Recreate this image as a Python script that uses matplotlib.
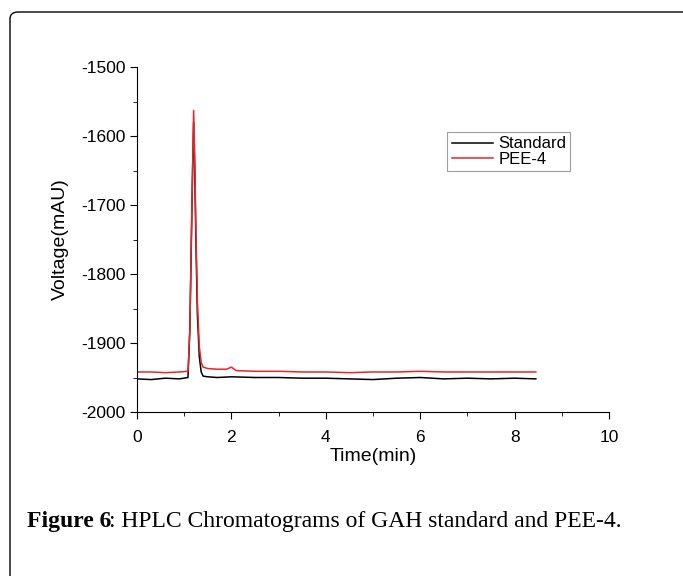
import matplotlib
matplotlib.use("Agg")
import matplotlib.pyplot as plt
from matplotlib.patches import FancyBboxPatch
from matplotlib.ticker import MultipleLocator

plt.rcParams["axes.unicode_minus"] = False

# retention time (min) and detector voltage (mAU)
time_std = [0.0, 0.3, 0.6, 0.9, 1.08, 1.12, 1.15, 1.18, 1.2, 1.22, 1.25, 1.28,
            1.32, 1.36, 1.4, 1.5, 1.7, 2.0, 2.5, 3.0, 3.5, 4.0, 4.5, 5.0,
            5.5, 6.0, 6.5, 7.0, 7.5, 8.0, 8.45]
volt_std = [-1952, -1953, -1951, -1952, -1950, -1880, -1760, -1640, -1580,
            -1640, -1760, -1860, -1920, -1942, -1948, -1949, -1950, -1949,
            -1950, -1950, -1951, -1951, -1952, -1953, -1951, -1950, -1952,
            -1951, -1952, -1951, -1952]

time_pee = [0.0, 0.3, 0.6, 0.9, 1.08, 1.12, 1.15, 1.18, 1.2, 1.22, 1.25, 1.28,
            1.32, 1.36, 1.4, 1.5, 1.7, 1.9, 2.0, 2.1, 2.5, 3.0, 3.5, 4.0,
            4.5, 5.0, 5.5, 6.0, 6.5, 7.0, 7.5, 8.0, 8.45]
volt_pee = [-1942, -1942, -1943, -1942, -1941, -1880, -1750, -1640, -1563,
            -1620, -1740, -1840, -1905, -1928, -1935, -1937, -1938, -1938,
            -1935, -1940, -1941, -1941, -1942, -1942, -1943, -1942, -1942,
            -1941, -1942, -1942, -1942, -1942, -1942]

fig = plt.figure(figsize=(6.83, 5.76), dpi=100)

# rounded panel frame of the page
frame = FancyBboxPatch((10 / 683, -0.2), 1.2, 1.2 - 12 / 576,
                       boxstyle="round,pad=0,rounding_size=0.012",
                       transform=fig.transFigure, fill=False,
                       edgecolor="black", linewidth=1.0)
fig.patches.append(frame)

ax = fig.add_axes([137 / 683, 1 - 412 / 576, 472 / 683, 345 / 576])
ax.plot(time_std, volt_std, color="black", lw=1.1, label="Standard")
ax.plot(time_pee, volt_pee, color="#e8262a", lw=1.1, label="PEE-4")

ax.set_xlim(0, 10)
ax.set_ylim(-2000, -1500)
ax.xaxis.set_major_locator(MultipleLocator(2))
ax.xaxis.set_minor_locator(MultipleLocator(1))
ax.yaxis.set_major_locator(MultipleLocator(100))
ax.yaxis.set_minor_locator(MultipleLocator(50))
ax.spines["top"].set_visible(False)
ax.spines["right"].set_visible(False)
ax.tick_params(which="major", direction="out", length=5, labelsize=12.5, pad=3)
ax.tick_params(axis="x", which="major", pad=8)
ax.tick_params(which="minor", direction="out", length=3)
for lab in ax.get_xticklabels() + ax.get_yticklabels():
    lab.set_family("Liberation Sans")

ax.set_xlabel("Time(min)", fontsize=14, family="Liberation Sans", labelpad=2)
ax.set_ylabel("Voltage(mAU)", fontsize=14, family="Liberation Sans", labelpad=9)

leg = ax.legend(loc="upper left", bbox_to_anchor=(0.64, 0.835), fancybox=False,
                edgecolor="#888888", handlelength=2.5, borderpad=0.25,
                labelspacing=0.05, handletextpad=0.3,
                prop={"family": "Liberation Sans", "size": 12})
leg.get_frame().set_linewidth(0.8)

fig.text(27 / 683, 1 - 521 / 576, "Figure 6", fontsize=17, weight="bold",
         family="Liberation Serif", va="center")
fig.text(109 / 683, 1 - 521 / 576, ": HPLC Chromatograms of GAH standard and PEE-4.",
         fontsize=17, family="Liberation Serif", va="center")

fig.savefig("out.png", dpi=100)
